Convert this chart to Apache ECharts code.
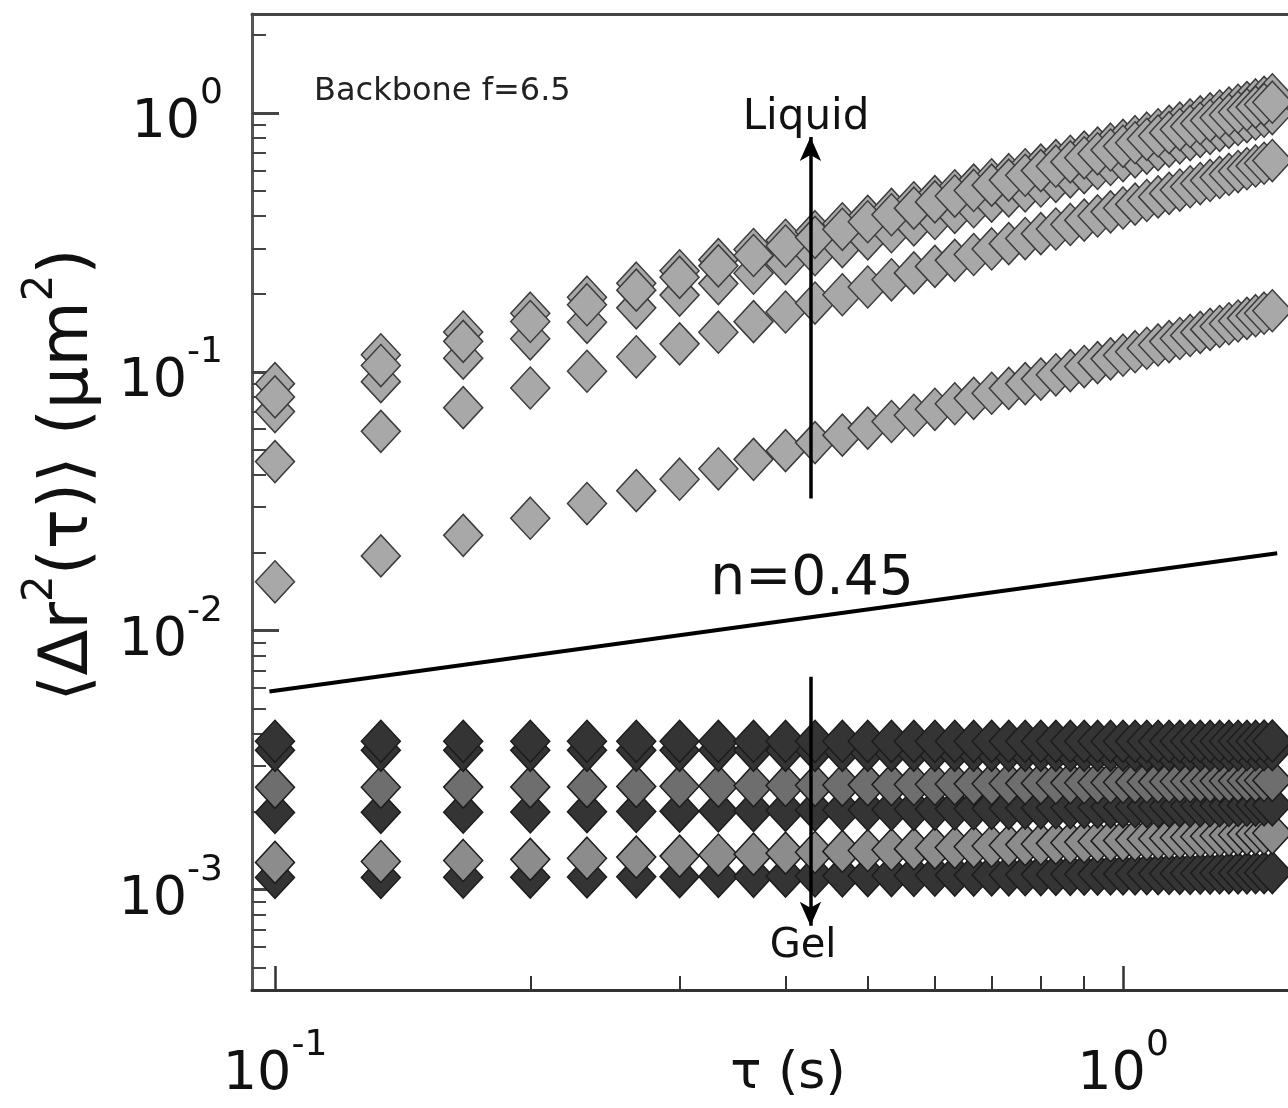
<!DOCTYPE html>
<html>
<head>
    <meta http-equiv="Content-Type" content="text/html; charset=utf-8" />
    <title>MSD backbone f=6.5</title>
    <script src="https://cdn.jsdelivr.net/npm/echarts@6/dist/echarts.min.js"></script>
    <style>
        html, body { margin: 0; padding: 0; background: #fff; }
    </style>
</head>
<body>
    <div id="main" style="width:1288px;height:1108px"></div>

    <script type="text/javascript">
        // lag times (s)
        var tau = [0.1, 0.1333, 0.1667, 0.2, 0.2333, 0.2667, 0.3, 0.3333, 0.3667, 0.4,
            0.4333, 0.4667, 0.5, 0.5333, 0.5667, 0.6, 0.6333, 0.6667, 0.7, 0.7333,
            0.7667, 0.8, 0.8333, 0.8667, 0.9, 0.9333, 0.9667, 1.0, 1.0333, 1.0667,
            1.1, 1.1333, 1.1667, 1.2, 1.2333, 1.2667, 1.3, 1.3333, 1.3667, 1.4,
            1.4333, 1.4667, 1.5];

        // liquid-like samples (um^2)
        var liquid1 = [0.0900, 0.1164, 0.1425, 0.1684, 0.1942, 0.2199, 0.2455, 0.2711, 0.2966, 0.3221,
            0.3476, 0.3730, 0.3985, 0.4239, 0.4495, 0.4751, 0.5005, 0.5261, 0.5516, 0.5772,
            0.6029, 0.6287, 0.6543, 0.6801, 0.7056, 0.7314, 0.7572, 0.7834, 0.8091, 0.8350,
            0.8610, 0.8872, 0.9128, 0.9391, 0.9652, 0.9913, 1.017, 1.043, 1.070, 1.096,
            1.122, 1.148, 1.175];
        var liquid2 = [0.0800, 0.1057, 0.1311, 0.1564, 0.1816, 0.2067, 0.2317, 0.2566, 0.2813, 0.3060,
            0.3306, 0.3552, 0.3798, 0.4043, 0.4287, 0.4531, 0.4773, 0.5017, 0.5260, 0.5501,
            0.5743, 0.5985, 0.6226, 0.6469, 0.6709, 0.6950, 0.7191, 0.7430, 0.7668, 0.7909,
            0.8148, 0.8388, 0.8625, 0.8866, 0.9103, 0.9341, 0.9579, 0.9815, 1.006, 1.029,
            1.053, 1.077, 1.100];
        var liquid3 = [0.0702, 0.0916, 0.1129, 0.1341, 0.1553, 0.1766, 0.1978, 0.2191, 0.2404, 0.2618,
            0.2833, 0.3047, 0.3261, 0.3477, 0.3693, 0.3911, 0.4127, 0.4343, 0.4561, 0.4780,
            0.4998, 0.5219, 0.5437, 0.5660, 0.5879, 0.6099, 0.6324, 0.6546, 0.6768, 0.6992,
            0.7216, 0.7440, 0.7663, 0.7890, 0.8114, 0.8341, 0.8565, 0.8793, 0.9022, 0.9250,
            0.9478, 0.9705, 0.9936];
        var liquid4 = [0.0450, 0.0589, 0.0727, 0.0866, 0.1005, 0.1143, 0.1282, 0.1422, 0.1562, 0.1702,
            0.1843, 0.1984, 0.2126, 0.2267, 0.2410, 0.2553, 0.2695, 0.2838, 0.2982, 0.3126,
            0.3271, 0.3417, 0.3561, 0.3708, 0.3853, 0.3999, 0.4147, 0.4295, 0.4442, 0.4589,
            0.4738, 0.4887, 0.5035, 0.5185, 0.5334, 0.5484, 0.5632, 0.5785, 0.5936, 0.6087,
            0.6239, 0.6390, 0.6546];
        var liquid5 = [0.01545, 0.01945, 0.02335, 0.02720, 0.03099, 0.03475, 0.03848, 0.04220, 0.04591, 0.04960,
            0.05327, 0.05694, 0.06061, 0.06427, 0.06794, 0.07163, 0.07528, 0.07896, 0.08262, 0.08630,
            0.09003, 0.09370, 0.09739, 0.1011, 0.1048, 0.1085, 0.1122, 0.1159, 0.1196, 0.1233,
            0.1270, 0.1308, 0.1345, 0.1382, 0.1420, 0.1458, 0.1496, 0.1533, 0.1571, 0.1609,
            0.1647, 0.1684, 0.1721];

        // gel-like samples (um^2)
        var gel1 = [0.00374, 0.00374, 0.00374, 0.00374, 0.00374, 0.00374, 0.00374, 0.00374, 0.00374, 0.00374,
            0.00374, 0.00374, 0.00374, 0.00374, 0.00374, 0.00374, 0.00374, 0.00374, 0.00374, 0.00374,
            0.00374, 0.00374, 0.00374, 0.00374, 0.00374, 0.00374, 0.00374, 0.00374, 0.00374, 0.00374,
            0.00374, 0.00374, 0.00374, 0.00374, 0.00374, 0.00374, 0.00374, 0.00374, 0.00374, 0.00374,
            0.00374, 0.00375, 0.00375];
        var gel2 = [0.00345, 0.00345, 0.00345, 0.00345, 0.00345, 0.00345, 0.00345, 0.00345, 0.00345, 0.00345,
            0.00345, 0.00345, 0.00345, 0.00345, 0.00345, 0.00345, 0.00345, 0.00345, 0.00345, 0.00345,
            0.00345, 0.00345, 0.00345, 0.00345, 0.00345, 0.00345, 0.00345, 0.00346, 0.00346, 0.00346,
            0.00346, 0.00346, 0.00346, 0.00346, 0.00346, 0.00346, 0.00346, 0.00346, 0.00347, 0.00347,
            0.00347, 0.00347, 0.00347];
        var gel3 = [0.002483, 0.002485, 0.002489, 0.002493, 0.002498, 0.002504, 0.002509, 0.002514, 0.002520, 0.002525,
            0.002529, 0.002534, 0.002539, 0.002544, 0.002548, 0.002552, 0.002557, 0.002561, 0.002565, 0.002569,
            0.002573, 0.002577, 0.002581, 0.002584, 0.002588, 0.002591, 0.002594, 0.002598, 0.002601, 0.002604,
            0.002607, 0.002610, 0.002614, 0.002617, 0.002619, 0.002622, 0.002625, 0.002628, 0.002631, 0.002634,
            0.002636, 0.002639, 0.002641];
        var gel4 = [0.001986, 0.001988, 0.001991, 0.001995, 0.002000, 0.002004, 0.002009, 0.002014, 0.002018, 0.002023,
            0.002027, 0.002031, 0.002035, 0.002039, 0.002043, 0.002047, 0.002051, 0.002054, 0.002058, 0.002061,
            0.002065, 0.002068, 0.002072, 0.002075, 0.002078, 0.002081, 0.002084, 0.002087, 0.002090, 0.002092,
            0.002095, 0.002098, 0.002101, 0.002103, 0.002106, 0.002108, 0.002111, 0.002113, 0.002116, 0.002118,
            0.002120, 0.002123, 0.002125];
        var gel5 = [0.001274, 0.001284, 0.001296, 0.001309, 0.001322, 0.001335, 0.001347, 0.001360, 0.001371, 0.001383,
            0.001394, 0.001405, 0.001416, 0.001426, 0.001436, 0.001446, 0.001455, 0.001465, 0.001474, 0.001483,
            0.001492, 0.001501, 0.001509, 0.001518, 0.001526, 0.001534, 0.001542, 0.001549, 0.001557, 0.001565,
            0.001572, 0.001580, 0.001587, 0.001594, 0.001601, 0.001608, 0.001615, 0.001621, 0.001628, 0.001635,
            0.001641, 0.001648, 0.001654];
        var gel6 = [0.001114, 0.001114, 0.001116, 0.001117, 0.001119, 0.001120, 0.001122, 0.001124, 0.001125, 0.001127,
            0.001129, 0.001130, 0.001132, 0.001133, 0.001134, 0.001136, 0.001137, 0.001138, 0.001140, 0.001141,
            0.001142, 0.001143, 0.001145, 0.001146, 0.001147, 0.001148, 0.001149, 0.001150, 0.001151, 0.001152,
            0.001153, 0.001154, 0.001155, 0.001156, 0.001157, 0.001158, 0.001159, 0.001160, 0.001160, 0.001161,
            0.001162, 0.001163, 0.001164];

        // power law guide, n = 0.45
        var fitTau = [0.0985, 1.52];
        var fitMsd = [0.00582, 0.0199];

        // arrows
        var arrowTau = 0.428;
        var liquidArrow = [0.0324, 0.808];
        var gelArrow = [0.00664, 0.000725];

        // tick values
        var xMajor = [0.1, 1];
        var xMinor = [0.2, 0.3, 0.4, 0.5, 0.6, 0.7, 0.8, 0.9];
        var yMajor = [0.001, 0.01, 0.1, 1];
        var yMinor = [0.0005, 0.0006, 0.0007, 0.0008, 0.0009,
            0.002, 0.003, 0.004, 0.005, 0.006, 0.007, 0.008, 0.009,
            0.02, 0.03, 0.04, 0.05, 0.06, 0.07, 0.08, 0.09,
            0.2, 0.3, 0.4, 0.5, 0.6, 0.7, 0.8, 0.9, 2];

        var xMin = 0.09395, xMax = 1.5652;
        var yMin = 0.0004095, yMax = 2.41;

        var FONT = '"DejaVu Sans", sans-serif';

        var powRich = {
            b: { fontFamily: FONT, fontSize: 54, lineHeight: 54, padding: [20, 0, 0, 0], color: '#111' },
            s: { fontFamily: FONT, fontSize: 36, lineHeight: 36, padding: [0, 0, 38, 0], color: '#111' }
        };
        function powLabel(v) {
            var e = Math.round(Math.log10(v));
            return '{b|10}{s|' + e + '}';
        }

        function pairs(arr) {
            return tau.map(function (t, i) { return [t, arr[i]]; });
        }

        function diamonds(name, arr, fill, stroke) {
            return {
                type: 'scatter',
                name: name,
                data: pairs(arr),
                symbol: 'diamond',
                symbolSize: [39, 42],
                itemStyle: { color: fill, borderColor: stroke, borderWidth: 1.5, opacity: 1 },
                silent: true
            };
        }

        var DARK = '#343434', DARK_B = '#1c1c1c';
        var MID = '#6e6e6e', LIGHT = '#8c8c8c';
        var LIQ = '#a8a8a8', LIQ_B = '#3c3c3c';

        var series = [
            diamonds('gel6', gel6, DARK, DARK_B),
            diamonds('gel5', gel5, LIGHT, DARK_B),
            diamonds('gel4', gel4, DARK, DARK_B),
            diamonds('gel3', gel3, MID, DARK_B),
            diamonds('gel2', gel2, DARK, DARK_B),
            diamonds('gel1', gel1, DARK, DARK_B),
            diamonds('liquid5', liquid5, LIQ, LIQ_B),
            diamonds('liquid4', liquid4, LIQ, LIQ_B),
            diamonds('liquid1', liquid1, LIQ, LIQ_B),
            diamonds('liquid3', liquid3, LIQ, LIQ_B),
            diamonds('liquid2', liquid2, LIQ, LIQ_B),
            {
                type: 'line',
                name: 'n=0.45',
                data: [[fitTau[0], fitMsd[0]], [fitTau[1], fitMsd[1]]],
                symbol: 'none',
                lineStyle: { color: '#000', width: 4 },
                silent: true,
                z: 5,
                markLine: {
                    silent: true,
                    symbol: ['none', 'arrow'],
                    symbolSize: [16, 24],
                    label: { show: false },
                    lineStyle: { color: '#000', width: 3.5, type: 'solid' },
                    data: [
                        [{ coord: [arrowTau, liquidArrow[0]] }, { coord: [arrowTau, liquidArrow[1]] }],
                        [{ coord: [arrowTau, gelArrow[0]] }, { coord: [arrowTau, gelArrow[1]] }]
                    ]
                }
            }
        ];

        var option = {
            backgroundColor: '#fff',
            animation: false,
            grid: { left: 252, right: 0, top: 14, bottom: 118, outerBoundsMode: 'none', containLabel: false },
            xAxis: [
                {
                    type: 'log', min: xMin, max: xMax, position: 'bottom',
                    axisLine: { show: true, lineStyle: { color: '#333', width: 3 } },
                    axisTick: { show: true, inside: true, length: 24, customValues: xMajor, lineStyle: { color: '#333', width: 2.5 } },
                    axisLabel: { show: true, customValues: xMajor, margin: 48, formatter: powLabel, rich: powRich },
                    splitLine: { show: false },
                    name: 'τ (s)',
                    nameLocation: 'middle',
                    nameGap: 58,
                    nameMoveOverlap: false,
                    nameTextStyle: { fontFamily: FONT, fontSize: 52, color: '#111', padding: [0, 0, 0, 36] }
                },
                {
                    type: 'log', min: xMin, max: xMax, position: 'bottom',
                    axisLine: { show: false },
                    axisTick: { show: true, inside: true, length: 14, customValues: xMinor, lineStyle: { color: '#333', width: 2 } },
                    axisLabel: { show: false },
                    splitLine: { show: false }
                },
                {
                    type: 'log', min: xMin, max: xMax, position: 'top',
                    axisLine: { show: true, lineStyle: { color: '#444', width: 3 } },
                    axisTick: { show: false },
                    axisLabel: { show: false },
                    splitLine: { show: false }
                }
            ],
            yAxis: [
                {
                    type: 'log', min: yMin, max: yMax, position: 'left',
                    axisLine: { show: true, lineStyle: { color: '#555', width: 3 } },
                    axisTick: { show: true, inside: true, length: 27, customValues: yMajor, lineStyle: { color: '#444', width: 3 } },
                    axisLabel: { show: true, customValues: yMajor, margin: 29, formatter: powLabel, rich: powRich },
                    splitLine: { show: false },
                    name: '{p|⟨Δr}{u|2}{p|(τ)⟩ (μm}{u|2}{p|)}',
                    nameLocation: 'middle',
                    nameRotate: 90,
                    nameGap: 157,
                    nameMoveOverlap: false,
                    nameTextStyle: {
                        color: '#111',
                        padding: [0, 0, 0, 54],
                        rich: {
                            p: { fontFamily: FONT, fontSize: 67, lineHeight: 67, padding: [16, 0, 0, 0], color: '#111' },
                            u: { fontFamily: FONT, fontSize: 42, lineHeight: 42, padding: [0, 0, 41, 0], color: '#111' }
                        }
                    }
                },
                {
                    type: 'log', min: yMin, max: yMax, position: 'left',
                    axisLine: { show: false },
                    axisTick: { show: true, inside: true, length: 14, customValues: yMinor, lineStyle: { color: '#444', width: 2 } },
                    axisLabel: { show: false },
                    splitLine: { show: false }
                }
            ],
            graphic: [
                { type: 'text', x: 314, y: 92, style: { text: 'Backbone f=6.5', font: '32px ' + FONT, fill: '#222', align: 'left', verticalAlign: 'middle' } },
                { type: 'text', x: 806, y: 118, style: { text: 'Liquid', font: '42px ' + FONT, fill: '#111', align: 'center', verticalAlign: 'middle' } },
                { type: 'text', x: 803, y: 947, style: { text: 'Gel', font: '40px ' + FONT, fill: '#111', align: 'center', verticalAlign: 'middle' } },
                { type: 'text', x: 812, y: 580, style: { text: 'n=0.45', font: '55px ' + FONT, fill: '#111', align: 'center', verticalAlign: 'middle' } }
            ],
            series: series
        };

        var myChart = echarts.init(document.getElementById('main'));
        myChart.setOption(option);
    </script>
</body>
</html>
